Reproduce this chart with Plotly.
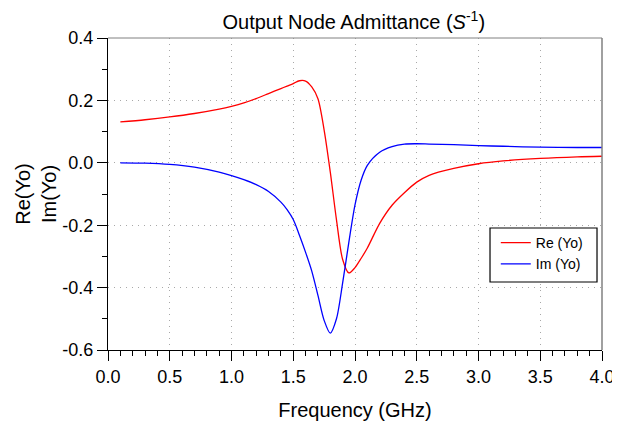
import plotly.graph_objects as go

freq = [0.1, 0.3, 0.5, 0.7, 0.9, 1.0, 1.1, 1.2, 1.3, 1.4, 1.45, 1.5, 1.55, 1.6, 1.65, 1.7,
        1.75, 1.8, 1.85, 1.9, 1.95, 2.0, 2.05, 2.1, 2.2, 2.3, 2.4, 2.5, 2.6, 2.8,
        3.0, 3.2, 3.5, 3.8, 4.0]
re_yo = [0.131, 0.138, 0.147, 0.158, 0.172, 0.181, 0.192, 0.206, 0.222, 0.238, 0.246, 0.254,
         0.263, 0.262, 0.243, 0.205, 0.105, -0.03, -0.183, -0.31, -0.353, -0.336,
         -0.306, -0.273, -0.194, -0.136, -0.096, -0.062, -0.040, -0.018, -0.003,
         0.006, 0.014, 0.019, 0.021]
im_yo = [0.0, -0.001, -0.005, -0.014, -0.030, -0.041, -0.054, -0.070, -0.092, -0.126, -0.150,
         -0.182, -0.232, -0.287, -0.347, -0.425, -0.505, -0.546, -0.50, -0.385, -0.255,
         -0.135, -0.055, -0.008, 0.034, 0.052, 0.060, 0.061, 0.060, 0.058, 0.055,
         0.053, 0.050, 0.049, 0.049]

x_ticks = [0.0, 0.5, 1.0, 1.5, 2.0, 2.5, 3.0, 3.5, 4.0]
y_ticks = [-0.6, -0.4, -0.2, 0.0, 0.2, 0.4]

FONT = "Liberation Sans, Arial, sans-serif"

fig = go.Figure()
fig.add_trace(go.Scatter(x=freq, y=re_yo, mode="lines", name="Re (Yo)",
                         line=dict(color="#ff0000", width=1.3, shape="spline", smoothing=0.8)))
fig.add_trace(go.Scatter(x=freq, y=im_yo, mode="lines", name="Im (Yo)",
                         line=dict(color="#0000ff", width=1.3, shape="spline", smoothing=0.8)))

# page body has an 8px margin, so the figure is 612x413 and starts at (8, 8)
fig.update_layout(
    width=612, height=413,
    margin=dict(l=100, r=18, t=30, b=71, autoexpand=False),
    paper_bgcolor="white", plot_bgcolor="white",
    font=dict(family=FONT, color="black"),
    title=dict(text="Output Node Admittance (<i>S</i><sup>-1</sup>)", x=0.565, xanchor="center",
               y=0.966, yanchor="middle", font=dict(size=20)),
    showlegend=True,
    legend=dict(x=0.785, y=0.394, xanchor="left", yanchor="top",
                borderwidth=0, bgcolor="rgba(0,0,0,0)",
                font=dict(size=14), itemwidth=30),
)
fig.update_xaxes(
    range=[0, 4], tickvals=x_ticks, ticktext=[f"{v:.1f}" for v in x_ticks],
    showline=True, linecolor="black", linewidth=1, automargin=False,
    ticks="outside", ticklen=10, tickcolor="black",
    tickfont=dict(size=18),
    showgrid=True, gridcolor="#a8a8a8", griddash="1px,5px", gridwidth=1,
    zeroline=False,
    minor=dict(dtick=0.1, tick0=0, ticks="outside", ticklen=5, tickcolor="black", showgrid=False),
    title=dict(text="Frequency (GHz)", font=dict(size=20), standoff=20),
)
fig.update_yaxes(
    range=[-0.6, 0.4], tickvals=y_ticks, ticktext=[f"{v:.1f}" for v in y_ticks],
    showline=True, linecolor="black", linewidth=1, automargin=False,
    ticks="outside", ticklen=10, tickcolor="black",
    tickfont=dict(size=18),
    showgrid=True, gridcolor="#a8a8a8", griddash="1px,5px", gridwidth=1,
    zeroline=False,
    minor=dict(dtick=0.1, tick0=0, ticks="outside", ticklen=5, tickcolor="black", showgrid=False),
    title=dict(text="Re(Yo)<br>Im(Yo)", font=dict(size=20), standoff=0),
)
# top and right frame
fig.add_shape(type="line", xref="paper", yref="paper", x0=0, x1=1, y0=1, y1=1,
              line=dict(color="#808080", width=1))
fig.add_shape(type="line", xref="paper", yref="paper", x0=1, x1=1, y0=0, y1=1,
              line=dict(color="#808080", width=1.5))
# legend box (opaque, bordered)
fig.add_shape(type="rect", xref="paper", yref="paper", x0=0.7733, x1=0.9899, y0=0.218, y1=0.391,
              layer="above", fillcolor="white", line=dict(color="black", width=1.2))

fig.write_html("out.html")
